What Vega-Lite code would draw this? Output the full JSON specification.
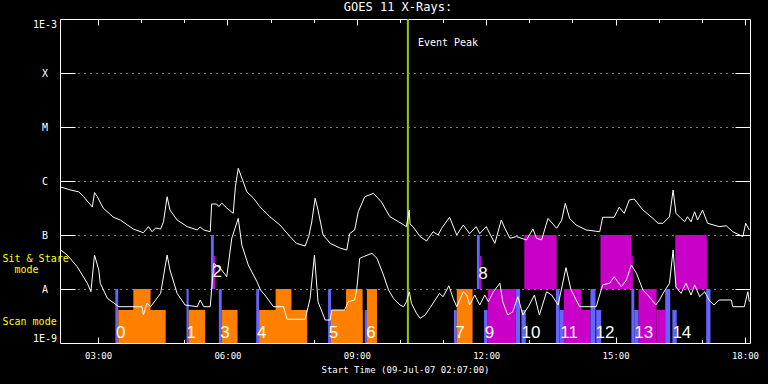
{
"$schema": "https://vega.github.io/schema/vega-lite/v6.json",
"width": 690, "height": 324,
"autosize": {"type": "none"},
"padding": {"left": 60, "top": 19, "right": 18, "bottom": 41},
"background": "black",
"view": {"stroke": null},
"title": {"text": "GOES 11 X-Rays:", "color": "white", "font": "DejaVu Sans Mono", "fontSize": 12, "fontWeight": "normal", "frame": "group", "anchor": "middle", "dx": -7, "offset": 4},
"config": {"axis": {"labelColor": "white", "tickColor": "white", "domainColor": "white", "gridColor": "white", "titleColor": "white", "labelFont": "DejaVu Sans Mono", "titleFont": "DejaVu Sans Mono", "labelFontSize": 10, "titleFontWeight": "normal", "domainWidth": 1, "tickWidth": 1, "grid": false, "title": null, "labelOverlap": false}},
"datasets": {
"bars": [
{"a":"2007-07-09T03:24","b":"2007-07-09T03:28","lo":1e-9,"hi":1e-8,"k":"b"},
{"a":"2007-07-09T03:28","b":"2007-07-09T04:34","lo":1e-9,"hi":4.1e-9,"k":"o"},
{"a":"2007-07-09T03:49","b":"2007-07-09T04:13","lo":1e-9,"hi":1e-8,"k":"o"},
{"a":"2007-07-09T05:03","b":"2007-07-09T05:06","lo":1e-9,"hi":1e-8,"k":"b"},
{"a":"2007-07-09T05:06","b":"2007-07-09T05:29","lo":1e-9,"hi":4.1e-9,"k":"o"},
{"a":"2007-07-09T05:37","b":"2007-07-09T05:41","lo":1e-8,"hi":1e-7,"k":"b"},
{"a":"2007-07-09T05:41","b":"2007-07-09T05:43","lo":1e-8,"hi":4.1e-8,"k":"m"},
{"a":"2007-07-09T05:48","b":"2007-07-09T05:52","lo":1e-9,"hi":1e-8,"k":"b"},
{"a":"2007-07-09T05:52","b":"2007-07-09T06:14","lo":1e-9,"hi":4.1e-9,"k":"o"},
{"a":"2007-07-09T06:40","b":"2007-07-09T06:44","lo":1e-9,"hi":1e-8,"k":"b"},
{"a":"2007-07-09T06:44","b":"2007-07-09T07:51","lo":1e-9,"hi":4.1e-9,"k":"o"},
{"a":"2007-07-09T07:07","b":"2007-07-09T07:29","lo":1e-9,"hi":1e-8,"k":"o"},
{"a":"2007-07-09T08:20","b":"2007-07-09T08:24","lo":1e-9,"hi":1e-8,"k":"b"},
{"a":"2007-07-09T08:24","b":"2007-07-09T09:08","lo":1e-9,"hi":4.1e-9,"k":"o"},
{"a":"2007-07-09T08:45","b":"2007-07-09T09:08","lo":1e-9,"hi":1e-8,"k":"o"},
{"a":"2007-07-09T09:11","b":"2007-07-09T09:14","lo":1e-9,"hi":4.1e-9,"k":"b"},
{"a":"2007-07-09T09:14","b":"2007-07-09T09:28","lo":1e-9,"hi":1e-8,"k":"o"},
{"a":"2007-07-09T11:15","b":"2007-07-09T11:19","lo":1e-9,"hi":4.1e-9,"k":"b"},
{"a":"2007-07-09T11:19","b":"2007-07-09T11:41","lo":1e-9,"hi":1e-8,"k":"o"},
{"a":"2007-07-09T11:47","b":"2007-07-09T11:51","lo":1e-8,"hi":1e-7,"k":"b"},
{"a":"2007-07-09T11:51","b":"2007-07-09T11:53","lo":1e-8,"hi":4.1e-8,"k":"m"},
{"a":"2007-07-09T11:57","b":"2007-07-09T12:02","lo":1e-9,"hi":4.1e-9,"k":"b"},
{"a":"2007-07-09T12:02","b":"2007-07-09T12:41","lo":1e-9,"hi":1e-8,"k":"m"},
{"a":"2007-07-09T12:41","b":"2007-07-09T12:47","lo":1e-9,"hi":1e-8,"k":"b"},
{"a":"2007-07-09T12:49","b":"2007-07-09T12:55","lo":1e-9,"hi":4.1e-9,"k":"b"},
{"a":"2007-07-09T12:53","b":"2007-07-09T13:38","lo":1e-8,"hi":1e-7,"k":"m"},
{"a":"2007-07-09T13:37","b":"2007-07-09T13:42","lo":1e-9,"hi":1e-8,"k":"b"},
{"a":"2007-07-09T13:42","b":"2007-07-09T13:48","lo":1e-9,"hi":4.1e-9,"k":"b"},
{"a":"2007-07-09T13:48","b":"2007-07-09T14:12","lo":1e-9,"hi":1e-8,"k":"m"},
{"a":"2007-07-09T14:12","b":"2007-07-09T14:25","lo":1e-9,"hi":4.1e-9,"k":"m"},
{"a":"2007-07-09T14:25","b":"2007-07-09T14:32","lo":1e-9,"hi":1e-8,"k":"b"},
{"a":"2007-07-09T14:33","b":"2007-07-09T14:40","lo":1e-9,"hi":4.1e-9,"k":"b"},
{"a":"2007-07-09T14:39","b":"2007-07-09T15:22","lo":1e-8,"hi":1e-7,"k":"m"},
{"a":"2007-07-09T15:22","b":"2007-07-09T15:24","lo":1e-8,"hi":4.1e-8,"k":"m"},
{"a":"2007-07-09T15:22","b":"2007-07-09T15:26","lo":1e-9,"hi":1e-8,"k":"b"},
{"a":"2007-07-09T15:26","b":"2007-07-09T15:32","lo":1e-9,"hi":4.1e-9,"k":"b"},
{"a":"2007-07-09T15:32","b":"2007-07-09T15:57","lo":1e-9,"hi":1e-8,"k":"m"},
{"a":"2007-07-09T15:57","b":"2007-07-09T16:09","lo":1e-9,"hi":4.1e-9,"k":"m"},
{"a":"2007-07-09T16:09","b":"2007-07-09T16:16","lo":1e-9,"hi":1e-8,"k":"b"},
{"a":"2007-07-09T16:19","b":"2007-07-09T16:25","lo":1e-9,"hi":4.1e-9,"k":"b"},
{"a":"2007-07-09T16:23","b":"2007-07-09T17:07","lo":1e-8,"hi":1e-7,"k":"m"},
{"a":"2007-07-09T17:06","b":"2007-07-09T17:12","lo":1e-9,"hi":1e-8,"k":"b"}
],
"evt": [{"t":"2007-07-09T10:11","lo":1e-9,"hi":1e-3}],
"nums": [
{"t":"2007-07-09T03:25","v":1.53e-9,"s":"0"},
{"t":"2007-07-09T05:03","v":1.53e-9,"s":"1"},
{"t":"2007-07-09T05:39","v":2.08e-8,"s":"2"},
{"t":"2007-07-09T05:50","v":1.53e-9,"s":"3"},
{"t":"2007-07-09T06:41","v":1.53e-9,"s":"4"},
{"t":"2007-07-09T08:21","v":1.53e-9,"s":"5"},
{"t":"2007-07-09T09:13","v":1.53e-9,"s":"6"},
{"t":"2007-07-09T11:17","v":1.53e-9,"s":"7"},
{"t":"2007-07-09T11:49","v":1.92e-8,"s":"8"},
{"t":"2007-07-09T11:58","v":1.53e-9,"s":"9"},
{"t":"2007-07-09T12:49","v":1.53e-9,"s":"10"},
{"t":"2007-07-09T13:43","v":1.53e-9,"s":"11"},
{"t":"2007-07-09T14:32","v":1.53e-9,"s":"12"},
{"t":"2007-07-09T15:26","v":1.53e-9,"s":"13"},
{"t":"2007-07-09T16:19","v":1.53e-9,"s":"14"}
],
"peak": [{"t":"2007-07-09T10:25","v":3.6e-4,"s":"Event Peak"}],
"goes": [
{"t":"2007-07-09T02:07","v":7.8e-7,"c":"L"},
{"t":"2007-07-09T02:22","v":6.8e-7,"c":"L"},
{"t":"2007-07-09T02:33","v":6.3e-7,"c":"L"},
{"t":"2007-07-09T02:40","v":5.1e-7,"c":"L"},
{"t":"2007-07-09T02:52","v":3.3e-7,"c":"L"},
{"t":"2007-07-09T02:55","v":6.1e-7,"c":"L"},
{"t":"2007-07-09T02:59","v":5.1e-7,"c":"L"},
{"t":"2007-07-09T03:07","v":3.16e-7,"c":"L"},
{"t":"2007-07-09T03:21","v":2.15e-7,"c":"L"},
{"t":"2007-07-09T03:31","v":1.89e-7,"c":"L"},
{"t":"2007-07-09T03:49","v":1.29e-7,"c":"L"},
{"t":"2007-07-09T04:03","v":1.1e-7,"c":"L"},
{"t":"2007-07-09T04:10","v":1.43e-7,"c":"L"},
{"t":"2007-07-09T04:15","v":1.15e-7,"c":"L"},
{"t":"2007-07-09T04:20","v":1.35e-7,"c":"L"},
{"t":"2007-07-09T04:27","v":1.29e-7,"c":"L"},
{"t":"2007-07-09T04:31","v":1.76e-7,"c":"L"},
{"t":"2007-07-09T04:36","v":5.1e-7,"c":"L"},
{"t":"2007-07-09T04:40","v":2.9e-7,"c":"L"},
{"t":"2007-07-09T04:50","v":1.89e-7,"c":"L"},
{"t":"2007-07-09T05:04","v":1.43e-7,"c":"L"},
{"t":"2007-07-09T05:18","v":1.24e-7,"c":"L"},
{"t":"2007-07-09T05:22","v":1.41e-7,"c":"L"},
{"t":"2007-07-09T05:27","v":1.24e-7,"c":"L"},
{"t":"2007-07-09T05:36","v":1.15e-7,"c":"L"},
{"t":"2007-07-09T05:38","v":3.75e-7,"c":"L"},
{"t":"2007-07-09T05:45","v":3.75e-7,"c":"L"},
{"t":"2007-07-09T05:48","v":3.35e-7,"c":"L"},
{"t":"2007-07-09T05:52","v":3.9e-7,"c":"L"},
{"t":"2007-07-09T05:59","v":3.16e-7,"c":"L"},
{"t":"2007-07-09T06:08","v":2.52e-7,"c":"L"},
{"t":"2007-07-09T06:11","v":7.8e-7,"c":"L"},
{"t":"2007-07-09T06:15","v":1.72e-6,"c":"L"},
{"t":"2007-07-09T06:27","v":6.3e-7,"c":"L"},
{"t":"2007-07-09T06:36","v":4.84e-7,"c":"L"},
{"t":"2007-07-09T06:45","v":3.35e-7,"c":"L"},
{"t":"2007-07-09T06:59","v":2.18e-7,"c":"L"},
{"t":"2007-07-09T07:13","v":1.53e-7,"c":"L"},
{"t":"2007-07-09T07:27","v":9.35e-8,"c":"L"},
{"t":"2007-07-09T07:36","v":7.0e-8,"c":"L"},
{"t":"2007-07-09T07:48","v":6.26e-8,"c":"L"},
{"t":"2007-07-09T07:53","v":9.35e-8,"c":"L"},
{"t":"2007-07-09T07:57","v":1.67e-7,"c":"L"},
{"t":"2007-07-09T08:02","v":4.8e-7,"c":"L"},
{"t":"2007-07-09T08:06","v":2.9e-7,"c":"L"},
{"t":"2007-07-09T08:13","v":1.0e-7,"c":"L"},
{"t":"2007-07-09T08:23","v":7.0e-8,"c":"L"},
{"t":"2007-07-09T08:37","v":5.7e-8,"c":"L"},
{"t":"2007-07-09T08:46","v":5.27e-8,"c":"L"},
{"t":"2007-07-09T08:50","v":1.06e-7,"c":"L"},
{"t":"2007-07-09T08:57","v":1.24e-7,"c":"L"},
{"t":"2007-07-09T09:02","v":2.7e-7,"c":"L"},
{"t":"2007-07-09T09:11","v":5.1e-7,"c":"L"},
{"t":"2007-07-09T09:23","v":5.9e-7,"c":"L"},
{"t":"2007-07-09T09:34","v":4.14e-7,"c":"L"},
{"t":"2007-07-09T09:46","v":2.18e-7,"c":"L"},
{"t":"2007-07-09T09:58","v":1.76e-7,"c":"L"},
{"t":"2007-07-09T10:09","v":1.43e-7,"c":"L"},
{"t":"2007-07-09T10:13","v":2.9e-7,"c":"L"},
{"t":"2007-07-09T10:14","v":1.6e-7,"c":"L"},
{"t":"2007-07-09T10:18","v":1.43e-7,"c":"L"},
{"t":"2007-07-09T10:28","v":9.35e-8,"c":"L"},
{"t":"2007-07-09T10:37","v":7.74e-8,"c":"L"},
{"t":"2007-07-09T10:46","v":1.15e-7,"c":"L"},
{"t":"2007-07-09T10:53","v":1.0e-7,"c":"L"},
{"t":"2007-07-09T10:58","v":1.33e-7,"c":"L"},
{"t":"2007-07-09T11:09","v":2.13e-7,"c":"L"},
{"t":"2007-07-09T11:19","v":1.0e-7,"c":"L"},
{"t":"2007-07-09T11:28","v":1.53e-7,"c":"L"},
{"t":"2007-07-09T11:37","v":1.06e-7,"c":"L"},
{"t":"2007-07-09T11:46","v":1.43e-7,"c":"L"},
{"t":"2007-07-09T11:51","v":1.06e-7,"c":"L"},
{"t":"2007-07-09T12:00","v":1.43e-7,"c":"L"},
{"t":"2007-07-09T12:05","v":1.06e-7,"c":"L"},
{"t":"2007-07-09T12:12","v":7.0e-8,"c":"L"},
{"t":"2007-07-09T12:21","v":1.89e-7,"c":"L"},
{"t":"2007-07-09T12:26","v":1.33e-7,"c":"L"},
{"t":"2007-07-09T12:33","v":8.7e-8,"c":"L"},
{"t":"2007-07-09T12:42","v":9.35e-8,"c":"L"},
{"t":"2007-07-09T12:56","v":8.1e-8,"c":"L"},
{"t":"2007-07-09T13:05","v":1.29e-7,"c":"L"},
{"t":"2007-07-09T13:10","v":8.7e-8,"c":"L"},
{"t":"2007-07-09T13:17","v":8.1e-8,"c":"L"},
{"t":"2007-07-09T13:26","v":2.03e-7,"c":"L"},
{"t":"2007-07-09T13:38","v":1.33e-7,"c":"L"},
{"t":"2007-07-09T13:45","v":1.89e-7,"c":"L"},
{"t":"2007-07-09T13:50","v":3.86e-7,"c":"L"},
{"t":"2007-07-09T13:56","v":2.03e-7,"c":"L"},
{"t":"2007-07-09T14:05","v":1.53e-7,"c":"L"},
{"t":"2007-07-09T14:19","v":1.24e-7,"c":"L"},
{"t":"2007-07-09T14:38","v":1.15e-7,"c":"L"},
{"t":"2007-07-09T14:42","v":2.13e-7,"c":"L"},
{"t":"2007-07-09T14:58","v":2.13e-7,"c":"L"},
{"t":"2007-07-09T15:05","v":3.27e-7,"c":"L"},
{"t":"2007-07-09T15:12","v":2.52e-7,"c":"L"},
{"t":"2007-07-09T15:19","v":4.45e-7,"c":"L"},
{"t":"2007-07-09T15:26","v":4.64e-7,"c":"L"},
{"t":"2007-07-09T15:38","v":2.9e-7,"c":"L"},
{"t":"2007-07-09T15:52","v":2.03e-7,"c":"L"},
{"t":"2007-07-09T15:59","v":1.65e-7,"c":"L"},
{"t":"2007-07-09T16:06","v":1.65e-7,"c":"L"},
{"t":"2007-07-09T16:15","v":2.18e-7,"c":"L"},
{"t":"2007-07-09T16:20","v":6.8e-7,"c":"L"},
{"t":"2007-07-09T16:24","v":2.52e-7,"c":"L"},
{"t":"2007-07-09T16:31","v":2.03e-7,"c":"L"},
{"t":"2007-07-09T16:36","v":1.76e-7,"c":"L"},
{"t":"2007-07-09T16:40","v":2.18e-7,"c":"L"},
{"t":"2007-07-09T16:45","v":1.76e-7,"c":"L"},
{"t":"2007-07-09T16:50","v":2.7e-7,"c":"L"},
{"t":"2007-07-09T16:54","v":1.89e-7,"c":"L"},
{"t":"2007-07-09T17:01","v":2.9e-7,"c":"L"},
{"t":"2007-07-09T17:08","v":1.65e-7,"c":"L"},
{"t":"2007-07-09T17:24","v":1.43e-7,"c":"L"},
{"t":"2007-07-09T17:34","v":1.48e-7,"c":"L"},
{"t":"2007-07-09T17:43","v":1.15e-7,"c":"L"},
{"t":"2007-07-09T17:57","v":9.35e-8,"c":"L"},
{"t":"2007-07-09T18:01","v":1.65e-7,"c":"L"},
{"t":"2007-07-09T18:06","v":1.24e-7,"c":"L"},
{"t":"2007-07-09T02:08","v":5.27e-8,"c":"S"},
{"t":"2007-07-09T02:17","v":4.26e-8,"c":"S"},
{"t":"2007-07-09T02:31","v":2.58e-8,"c":"S"},
{"t":"2007-07-09T02:45","v":1.28e-8,"c":"S"},
{"t":"2007-07-09T02:50","v":8.9e-9,"c":"S"},
{"t":"2007-07-09T02:55","v":4.26e-8,"c":"S"},
{"t":"2007-07-09T03:01","v":2.25e-8,"c":"S"},
{"t":"2007-07-09T03:03","v":1.28e-8,"c":"S"},
{"t":"2007-07-09T03:13","v":6.7e-9,"c":"S"},
{"t":"2007-07-09T03:29","v":4.7e-9,"c":"S"},
{"t":"2007-07-09T04:01","v":4.7e-9,"c":"S"},
{"t":"2007-07-09T04:03","v":3.3e-9,"c":"S"},
{"t":"2007-07-09T04:08","v":5.5e-9,"c":"S"},
{"t":"2007-07-09T04:13","v":4.7e-9,"c":"S"},
{"t":"2007-07-09T04:27","v":8.3e-9,"c":"S"},
{"t":"2007-07-09T04:36","v":4.26e-8,"c":"S"},
{"t":"2007-07-09T04:40","v":2.25e-8,"c":"S"},
{"t":"2007-07-09T04:50","v":8.3e-9,"c":"S"},
{"t":"2007-07-09T05:01","v":5.05e-9,"c":"S"},
{"t":"2007-07-09T05:18","v":4.7e-9,"c":"S"},
{"t":"2007-07-09T05:22","v":6.26e-9,"c":"S"},
{"t":"2007-07-09T05:27","v":4.7e-9,"c":"S"},
{"t":"2007-07-09T05:36","v":4.7e-9,"c":"S"},
{"t":"2007-07-09T05:41","v":2.99e-8,"c":"S"},
{"t":"2007-07-09T05:50","v":2.42e-8,"c":"S"},
{"t":"2007-07-09T05:59","v":1.69e-8,"c":"S"},
{"t":"2007-07-09T06:06","v":8.7e-8,"c":"S"},
{"t":"2007-07-09T06:15","v":2.03e-7,"c":"S"},
{"t":"2007-07-09T06:20","v":6.5e-8,"c":"S"},
{"t":"2007-07-09T06:29","v":2.78e-8,"c":"S"},
{"t":"2007-07-09T06:41","v":1.37e-8,"c":"S"},
{"t":"2007-07-09T06:46","v":9.6e-9,"c":"S"},
{"t":"2007-07-09T06:52","v":7.74e-9,"c":"S"},
{"t":"2007-07-09T07:04","v":4.7e-9,"c":"S"},
{"t":"2007-07-09T07:18","v":4.7e-9,"c":"S"},
{"t":"2007-07-09T07:23","v":2.75e-9,"c":"S"},
{"t":"2007-07-09T07:48","v":2.75e-9,"c":"S"},
{"t":"2007-07-09T07:55","v":6.7e-9,"c":"S"},
{"t":"2007-07-09T08:01","v":4.26e-8,"c":"S"},
{"t":"2007-07-09T08:06","v":5.8e-9,"c":"S"},
{"t":"2007-07-09T08:16","v":2.66e-9,"c":"S"},
{"t":"2007-07-09T08:23","v":2.66e-9,"c":"S"},
{"t":"2007-07-09T08:25","v":4.08e-9,"c":"S"},
{"t":"2007-07-09T08:43","v":4.08e-9,"c":"S"},
{"t":"2007-07-09T08:48","v":5.8e-9,"c":"S"},
{"t":"2007-07-09T08:57","v":6.26e-9,"c":"S"},
{"t":"2007-07-09T09:00","v":1.03e-8,"c":"S"},
{"t":"2007-07-09T09:04","v":3.7e-8,"c":"S"},
{"t":"2007-07-09T09:09","v":3.96e-8,"c":"S"},
{"t":"2007-07-09T09:21","v":4.58e-8,"c":"S"},
{"t":"2007-07-09T09:28","v":3.7e-8,"c":"S"},
{"t":"2007-07-09T09:37","v":1.82e-8,"c":"S"},
{"t":"2007-07-09T09:44","v":9.6e-9,"c":"S"},
{"t":"2007-07-09T09:51","v":6.7e-9,"c":"S"},
{"t":"2007-07-09T10:00","v":5.05e-9,"c":"S"},
{"t":"2007-07-09T10:05","v":4.7e-9,"c":"S"},
{"t":"2007-07-09T10:09","v":5.8e-9,"c":"S"},
{"t":"2007-07-09T10:13","v":8.9e-9,"c":"S"},
{"t":"2007-07-09T10:16","v":5.45e-9,"c":"S"},
{"t":"2007-07-09T10:23","v":3.55e-9,"c":"S"},
{"t":"2007-07-09T10:28","v":2.87e-9,"c":"S"},
{"t":"2007-07-09T10:35","v":3.3e-9,"c":"S"},
{"t":"2007-07-09T10:42","v":4.5e-9,"c":"S"},
{"t":"2007-07-09T10:55","v":8.3e-9,"c":"S"},
{"t":"2007-07-09T11:00","v":7.2e-9,"c":"S"},
{"t":"2007-07-09T11:08","v":1.15e-8,"c":"S"},
{"t":"2007-07-09T11:14","v":6.7e-9,"c":"S"},
{"t":"2007-07-09T11:19","v":4.7e-9,"c":"S"},
{"t":"2007-07-09T11:28","v":8.9e-9,"c":"S"},
{"t":"2007-07-09T11:33","v":7.74e-9,"c":"S"},
{"t":"2007-07-09T11:37","v":5.05e-9,"c":"S"},
{"t":"2007-07-09T11:44","v":7.74e-9,"c":"S"},
{"t":"2007-07-09T11:51","v":5.05e-9,"c":"S"},
{"t":"2007-07-09T11:58","v":7.74e-9,"c":"S"},
{"t":"2007-07-09T12:03","v":5.8e-9,"c":"S"},
{"t":"2007-07-09T12:10","v":8.9e-9,"c":"S"},
{"t":"2007-07-09T12:19","v":1.28e-8,"c":"S"},
{"t":"2007-07-09T12:23","v":5.8e-9,"c":"S"},
{"t":"2007-07-09T12:30","v":3.3e-9,"c":"S"},
{"t":"2007-07-09T12:37","v":3.8e-9,"c":"S"},
{"t":"2007-07-09T12:44","v":7.2e-9,"c":"S"},
{"t":"2007-07-09T12:51","v":3.3e-9,"c":"S"},
{"t":"2007-07-09T13:00","v":5.05e-9,"c":"S"},
{"t":"2007-07-09T13:07","v":7.74e-9,"c":"S"},
{"t":"2007-07-09T13:14","v":3.3e-9,"c":"S"},
{"t":"2007-07-09T13:24","v":8.9e-9,"c":"S"},
{"t":"2007-07-09T13:31","v":7.74e-9,"c":"S"},
{"t":"2007-07-09T13:40","v":5.05e-9,"c":"S"},
{"t":"2007-07-09T13:51","v":2.49e-8,"c":"S"},
{"t":"2007-07-09T13:58","v":9.6e-9,"c":"S"},
{"t":"2007-07-09T14:10","v":4.7e-9,"c":"S"},
{"t":"2007-07-09T14:33","v":4.7e-9,"c":"S"},
{"t":"2007-07-09T14:42","v":1.19e-8,"c":"S"},
{"t":"2007-07-09T14:52","v":1.28e-8,"c":"S"},
{"t":"2007-07-09T14:58","v":1.69e-8,"c":"S"},
{"t":"2007-07-09T15:08","v":1.1e-8,"c":"S"},
{"t":"2007-07-09T15:15","v":1.47e-8,"c":"S"},
{"t":"2007-07-09T15:22","v":2.78e-8,"c":"S"},
{"t":"2007-07-09T15:29","v":1.96e-8,"c":"S"},
{"t":"2007-07-09T15:38","v":9.6e-9,"c":"S"},
{"t":"2007-07-09T15:47","v":7.2e-9,"c":"S"},
{"t":"2007-07-09T15:56","v":5.05e-9,"c":"S"},
{"t":"2007-07-09T16:01","v":6.26e-9,"c":"S"},
{"t":"2007-07-09T16:06","v":8.3e-9,"c":"S"},
{"t":"2007-07-09T16:15","v":1.28e-8,"c":"S"},
{"t":"2007-07-09T16:20","v":5.27e-8,"c":"S"},
{"t":"2007-07-09T16:24","v":1.1e-8,"c":"S"},
{"t":"2007-07-09T16:31","v":8.3e-9,"c":"S"},
{"t":"2007-07-09T16:38","v":1.28e-8,"c":"S"},
{"t":"2007-07-09T16:45","v":7.74e-9,"c":"S"},
{"t":"2007-07-09T16:50","v":1.19e-8,"c":"S"},
{"t":"2007-07-09T16:57","v":7.2e-9,"c":"S"},
{"t":"2007-07-09T17:04","v":8.9e-9,"c":"S"},
{"t":"2007-07-09T17:10","v":6.26e-9,"c":"S"},
{"t":"2007-07-09T17:17","v":5.05e-9,"c":"S"},
{"t":"2007-07-09T17:24","v":6.26e-9,"c":"S"},
{"t":"2007-07-09T17:41","v":6.26e-9,"c":"S"},
{"t":"2007-07-09T17:43","v":4.7e-9,"c":"S"},
{"t":"2007-07-09T17:59","v":4.7e-9,"c":"S"},
{"t":"2007-07-09T18:04","v":8.9e-9,"c":"S"},
{"t":"2007-07-09T18:06","v":5.8e-9,"c":"S"}
]
},
"layer": [
{
"data": {"name": "bars"},
"mark": {"type": "rect"},
"encoding": {
"x": {"field": "a", "type": "temporal",
"scale": {"domain": [{"year":2007,"month":7,"date":9,"hours":2,"minutes":7},{"year":2007,"month":7,"date":9,"hours":18,"minutes":7}]},
"axis": {"orient": "bottom", "format": "%H:%M", "values": [{"year":2007,"month":7,"date":9,"hours":3},{"year":2007,"month":7,"date":9,"hours":6},{"year":2007,"month":7,"date":9,"hours":9},{"year":2007,"month":7,"date":9,"hours":12},{"year":2007,"month":7,"date":9,"hours":15},{"year":2007,"month":7,"date":9,"hours":18}], "ticks": false, "domain": true, "labelFontSize": 9, "labelPadding": 8, "labelFlush": false, "title": "Start Time (09-Jul-07 02:07:00)", "titleFontSize": 9, "titlePadding": 5}},
"x2": {"field": "b"},
"y": {"field": "lo", "type": "quantitative",
"scale": {"type": "log", "domain": [1e-9, 1e-3], "nice": false},
"axis": {"orient": "left", "values": [1e-9,1e-8,1e-7,1e-6,1e-5,1e-4,1e-3], "labelExpr": "datum.value >= 9e-4 ? '1E-3' : datum.value >= 9e-5 ? 'X' : datum.value >= 9e-6 ? 'M' : datum.value >= 9e-7 ? 'C' : datum.value >= 9e-8 ? 'B' : datum.value >= 9e-9 ? 'A' : '1E-9'", "ticks": false, "domain": true, "labelAlign": "center", "labelPadding": 15.5, "labelFlush": true, "labelFontSize": 10}},
"y2": {"field": "hi"},
"color": {"field": "k", "type": "nominal", "scale": {"domain": ["o","m","b"], "range": ["#ff8000","#c800c8","#6464ff"]}, "legend": null}
}
},
{
"data": {"name": "evt"},
"mark": {"type": "rule", "color": "#99cc00", "strokeWidth": 2},
"encoding": {
"x": {"field": "t", "type": "temporal",
"scale": {"domain": [{"year":2007,"month":7,"date":9,"hours":2,"minutes":7},{"year":2007,"month":7,"date":9,"hours":18,"minutes":7}]},
"axis": {"orient": "bottom", "values": [{"year":2007,"month":7,"date":9,"hours":3},{"year":2007,"month":7,"date":9,"hours":6},{"year":2007,"month":7,"date":9,"hours":9},{"year":2007,"month":7,"date":9,"hours":12},{"year":2007,"month":7,"date":9,"hours":15},{"year":2007,"month":7,"date":9,"hours":18}], "labels": false, "ticks": true, "tickSize": -6, "domain": false}},
"y": {"field": "lo", "type": "quantitative",
"scale": {"type": "log", "domain": [1e-9, 1e-3], "nice": false},
"axis": {"orient": "left", "values": [2.25e-8], "labelExpr": "'mode'", "labels": true, "ticks": false, "domain": false, "labelColor": "#ffff00", "labelAlign": "left", "labelBaseline": "middle", "labelPadding": 46, "labelFontSize": 10, "labelFlush": false, "labelBound": false}},
"y2": {"field": "hi"}
}
},
{
"data": {"name": "goes"},
"mark": {"type": "line", "color": "white", "strokeWidth": 1},
"encoding": {
"x": {"field": "t", "type": "temporal",
"scale": {"domain": [{"year":2007,"month":7,"date":9,"hours":2,"minutes":7},{"year":2007,"month":7,"date":9,"hours":18,"minutes":7}]},
"axis": {"orient": "bottom", "values": [{"year":2007,"month":7,"date":9,"hours":3},{"year":2007,"month":7,"date":9,"hours":4},{"year":2007,"month":7,"date":9,"hours":5},{"year":2007,"month":7,"date":9,"hours":6},{"year":2007,"month":7,"date":9,"hours":7},{"year":2007,"month":7,"date":9,"hours":8},{"year":2007,"month":7,"date":9,"hours":9},{"year":2007,"month":7,"date":9,"hours":10},{"year":2007,"month":7,"date":9,"hours":11},{"year":2007,"month":7,"date":9,"hours":12},{"year":2007,"month":7,"date":9,"hours":13},{"year":2007,"month":7,"date":9,"hours":14},{"year":2007,"month":7,"date":9,"hours":15},{"year":2007,"month":7,"date":9,"hours":16},{"year":2007,"month":7,"date":9,"hours":17},{"year":2007,"month":7,"date":9,"hours":18}], "labels": false, "ticks": true, "tickSize": -3.5, "domain": false}},
"y": {"field": "v", "type": "quantitative",
"scale": {"type": "log", "domain": [1e-9, 1e-3], "nice": false},
"axis": {"orient": "left", "values": [1e-8,1e-7,1e-6,1e-5,1e-4], "labels": false, "ticks": true, "tickSize": -15, "domain": false, "grid": true, "gridDash": [1,5], "gridColor": "white", "gridOpacity": 1, "gridWidth": 1}},
"detail": {"field": "c", "type": "nominal"}
}
},
{
"data": {"name": "nums"},
"mark": {"type": "text", "color": "white", "align": "left", "baseline": "middle", "font": "Liberation Sans", "fontSize": 17},
"encoding": {
"x": {"field": "t", "type": "temporal",
"scale": {"domain": [{"year":2007,"month":7,"date":9,"hours":2,"minutes":7},{"year":2007,"month":7,"date":9,"hours":18,"minutes":7}]},
"axis": {"orient": "top", "values": [{"year":2007,"month":7,"date":9,"hours":3},{"year":2007,"month":7,"date":9,"hours":6},{"year":2007,"month":7,"date":9,"hours":9},{"year":2007,"month":7,"date":9,"hours":12},{"year":2007,"month":7,"date":9,"hours":15},{"year":2007,"month":7,"date":9,"hours":18}], "labels": false, "ticks": true, "tickSize": -6, "domain": true}},
"y": {"field": "v", "type": "quantitative",
"scale": {"type": "log", "domain": [1e-9, 1e-3], "nice": false},
"axis": {"orient": "right", "values": [1e-8,1e-7,1e-6,1e-5,1e-4], "labels": false, "ticks": true, "tickSize": -15, "domain": true}},
"text": {"field": "s"}
}
},
{
"data": {"name": "peak"},
"mark": {"type": "text", "color": "white", "align": "left", "baseline": "middle", "font": "DejaVu Sans Mono", "fontSize": 10},
"encoding": {
"x": {"field": "t", "type": "temporal",
"scale": {"domain": [{"year":2007,"month":7,"date":9,"hours":2,"minutes":7},{"year":2007,"month":7,"date":9,"hours":18,"minutes":7}]},
"axis": {"orient": "top", "values": [{"year":2007,"month":7,"date":9,"hours":3},{"year":2007,"month":7,"date":9,"hours":4},{"year":2007,"month":7,"date":9,"hours":5},{"year":2007,"month":7,"date":9,"hours":6},{"year":2007,"month":7,"date":9,"hours":7},{"year":2007,"month":7,"date":9,"hours":8},{"year":2007,"month":7,"date":9,"hours":9},{"year":2007,"month":7,"date":9,"hours":10},{"year":2007,"month":7,"date":9,"hours":11},{"year":2007,"month":7,"date":9,"hours":12},{"year":2007,"month":7,"date":9,"hours":13},{"year":2007,"month":7,"date":9,"hours":14},{"year":2007,"month":7,"date":9,"hours":15},{"year":2007,"month":7,"date":9,"hours":16},{"year":2007,"month":7,"date":9,"hours":17},{"year":2007,"month":7,"date":9,"hours":18}], "labels": false, "ticks": true, "tickSize": -3.5, "domain": false}},
"y": {"field": "v", "type": "quantitative",
"scale": {"type": "log", "domain": [1e-9, 1e-3], "nice": false},
"axis": {"orient": "left", "values": [3.67e-8, 2.45e-9], "labelExpr": "datum.value > 1e-8 ? 'Sit & Stare' : 'Scan mode'", "labels": true, "ticks": false, "domain": false, "labelColor": "#ffff00", "labelAlign": "left", "labelBaseline": "middle", "labelPadding": 58, "labelFontSize": 10, "labelFlush": false, "labelBound": false}},
"text": {"field": "s"}
}
}
],
"resolve": {"axis": {"x": "independent", "y": "independent"}}
}
